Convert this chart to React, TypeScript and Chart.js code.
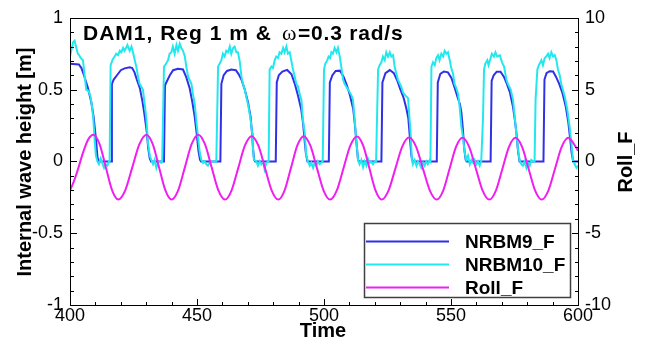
import React, { useEffect, useRef } from 'react';
import { Chart, registerables } from 'chart.js';

Chart.register(...registerables);

// ---------- data ----------
const X_TICKS = [400, 450, 500, 550, 600];
const Y_TICKS = [-1, -0.5, 0, 0.5, 1];
const Y2_TICKS = [-10, -5, 0, 5, 10];
const SERIES_NAMES = ['NRBM9_F', 'NRBM10_F', 'Roll_F'];
const CHART_TITLE = ['DAM1, Reg 1 m & ', 'ω', '=0.3 rad/s'];
const X_TITLE = 'Time';
const Y_TITLE = 'Internal wave height [m]';
const Y2_TITLE = 'Roll_F';

// [time, value]
const NRBM9_F: [number, number][] = [
  [400, 0.68], [403.5, 0.675], [404.5, 0.65], [405.5, 0.6], [407.1, 0.51], [408.4, 0.41], [409.3, 0.31], [409.9, 0.21], [410.4, 0.12], [410.8, 0.03], [411.3, 0.0],
  [416.2, 0.0], [416.5, 0.54], [417.2, 0.57], [418.5, 0.6], [420.0, 0.635], [421.5, 0.648], [423.5, 0.655], [424.5, 0.65], [425.4, 0.62], [426.3, 0.57], [427.5, 0.51], [428.5, 0.42], [429.3, 0.33], [430.2, 0.21], [430.8, 0.09], [431.4, 0.02], [431.9, 0.0],
  [437.0, 0.0], [437.4, 0.53], [438.2, 0.56], [439.3, 0.6], [440.6, 0.635], [442.5, 0.645], [444.5, 0.64], [445.8, 0.585], [447.1, 0.51], [448.2, 0.41], [449.1, 0.31], [449.9, 0.19], [450.6, 0.07], [451.2, 0.01], [451.6, 0.0],
  [459.2, 0.0], [459.6, 0.54], [460.5, 0.6], [461.8, 0.63], [463.5, 0.64], [465.3, 0.635], [466.3, 0.61], [467.5, 0.57], [468.8, 0.5], [470.1, 0.41], [471.1, 0.31], [471.7, 0.19], [472.1, 0.08], [472.5, 0.01], [472.9, 0.0],
  [481.0, 0.0], [481.4, 0.55], [482.2, 0.6], [483.6, 0.625], [485.5, 0.637], [487.2, 0.607], [488.5, 0.54], [489.8, 0.455], [491.0, 0.365], [491.8, 0.26], [492.4, 0.14], [492.9, 0.05], [493.5, 0.0],
  [501.9, 0.0], [502.3, 0.55], [503.3, 0.6], [504.6, 0.63], [506.3, 0.632], [507.7, 0.59], [509.0, 0.53], [510.3, 0.455], [511.5, 0.365], [512.2, 0.25], [512.8, 0.125], [513.4, 0.01], [513.8, 0.0],
  [522.6, 0.0], [523.0, 0.55], [524.2, 0.615], [525.9, 0.636], [527.5, 0.615], [528.8, 0.565], [530.1, 0.5], [531.4, 0.44], [532.4, 0.37], [533.2, 0.3], [533.8, 0.17], [534.4, 0.04], [534.9, 0.0],
  [544.4, 0.0], [544.8, 0.55], [545.8, 0.61], [547.2, 0.626], [548.8, 0.62], [550.2, 0.58], [551.5, 0.51], [552.8, 0.435], [553.5, 0.4], [554.1, 0.34], [554.7, 0.22], [555.2, 0.09], [555.8, 0.01], [556.2, 0.0],
  [565.6, 0.0], [566.0, 0.56], [566.8, 0.6], [568.0, 0.625], [569.5, 0.625], [570.8, 0.59], [572.0, 0.54], [573.2, 0.48], [574.4, 0.38], [575.2, 0.28], [575.8, 0.19], [576.4, 0.07], [577.0, 0.0],
  [586.4, 0.0], [586.8, 0.57], [587.6, 0.615], [588.8, 0.628], [590.2, 0.626], [591.3, 0.59], [592.6, 0.54], [593.9, 0.475], [595.2, 0.38], [596.2, 0.27], [596.9, 0.16], [597.5, 0.06], [598.1, 0.0], [600, 0.0],
];

const NRBM10_F: [number, number][] = [
  [400.0, 0.73], [400.6, 0.78], [401.2, 0.83], [401.8, 0.84], [402.5, 0.79], [403.1, 0.75], [403.6, 0.74], [404.2, 0.72], [405.1, 0.705], [405.8, 0.59], [406.4, 0.5], [407.3, 0.49], [408.1, 0.45], [408.7, 0.38], [409.2, 0.29], [409.7, 0.15], [410.2, 0.04], [410.8, 0.0],
  [411.4, -0.02], [412.1, 0.02], [412.7, -0.01], [413.4, -0.045], [414.0, -0.02], [414.7, -0.03], [415.3, 0.0], [415.6, 0.0],
  [416.0, 0.67], [416.8, 0.71], [417.6, 0.73], [418.2, 0.75], [418.9, 0.74], [419.6, 0.77], [420.2, 0.76], [420.9, 0.79], [421.5, 0.77], [422.6, 0.81], [423.5, 0.77], [424.2, 0.8], [424.8, 0.76], [425.5, 0.705], [426.1, 0.66], [426.8, 0.59], [427.4, 0.54], [428.1, 0.52], [428.7, 0.5], [429.4, 0.4], [430.1, 0.29], [430.7, 0.13], [431.4, 0.04], [432.0, 0.01],
  [432.7, -0.02], [433.3, 0.01], [434.0, -0.045], [434.6, -0.01], [435.3, 0.0], [435.9, -0.01], [436.3, 0.0],
  [437.0, 0.66], [437.5, 0.67], [438.6, 0.705], [439.2, 0.75], [439.9, 0.76], [440.5, 0.8], [441.2, 0.75], [441.9, 0.81], [442.5, 0.77], [443.2, 0.82], [443.8, 0.79], [444.5, 0.77], [445.2, 0.73], [445.8, 0.66], [446.5, 0.59], [447.8, 0.54], [448.4, 0.47], [449.1, 0.4], [449.7, 0.29], [450.4, 0.17], [451.1, 0.06], [451.7, 0.01],
  [452.4, -0.01], [453.0, 0.0], [453.7, -0.02], [454.3, -0.03], [455.0, -0.01], [455.6, 0.0], [457.0, 0.0], [457.6, 0.0],
  [458.3, 0.66], [458.9, 0.68], [459.6, 0.705], [460.2, 0.75], [460.9, 0.73], [461.5, 0.77], [462.2, 0.76], [462.9, 0.8], [463.5, 0.75], [464.2, 0.79], [464.8, 0.8], [465.5, 0.76], [466.1, 0.76], [466.8, 0.7], [467.5, 0.59], [468.1, 0.54], [468.8, 0.5], [469.4, 0.45], [470.3, 0.38], [471.1, 0.29], [471.7, 0.2], [472.0, 0.1], [472.4, 0.01],
  [473.4, 0.0], [474.0, -0.03], [474.7, 0.0], [475.3, -0.02], [476.0, 0.0], [476.6, -0.055], [477.3, -0.01], [477.9, 0.0], [478.2, 0.0],
  [478.6, 0.64], [479.3, 0.66], [479.9, 0.65], [480.6, 0.705], [481.2, 0.73], [481.9, 0.72], [482.5, 0.76], [483.2, 0.75], [483.9, 0.79], [484.5, 0.76], [485.2, 0.8], [485.8, 0.75], [486.5, 0.76], [487.1, 0.705], [487.8, 0.64], [488.5, 0.59], [489.1, 0.54], [489.8, 0.52], [490.4, 0.47], [491.1, 0.43], [491.7, 0.29], [492.4, 0.2], [493.0, 0.04],
  [493.7, 0.0], [494.4, -0.03], [495.0, -0.01], [495.7, -0.045], [496.3, -0.01], [497.0, -0.03], [497.6, 0.0], [498.3, -0.02], [498.9, -0.01], [499.5, 0.0],
  [500.0, 0.64], [500.5, 0.68], [501.3, 0.705], [501.8, 0.73], [502.4, 0.72], [502.9, 0.76], [503.5, 0.75], [504.2, 0.79], [504.9, 0.76], [505.5, 0.79], [506.2, 0.73], [506.8, 0.66], [507.5, 0.57], [508.1, 0.54], [509.5, 0.5], [510.8, 0.46], [511.4, 0.43], [512.1, 0.29], [512.7, 0.15], [513.4, 0.01],
  [514.0, -0.02], [514.7, 0.01], [515.4, -0.04], [516.0, 0.0], [516.7, -0.03], [517.3, 0.02], [518.0, -0.01], [518.6, 0.0], [519.3, -0.02], [519.9, 0.0], [520.5, 0.0],
  [521.3, 0.64], [521.9, 0.67], [522.6, 0.69], [523.2, 0.73], [523.9, 0.705], [524.5, 0.76], [525.2, 0.73], [525.9, 0.76], [526.5, 0.73], [527.2, 0.74], [527.8, 0.66], [528.5, 0.61], [529.1, 0.57], [530.4, 0.52], [531.1, 0.48], [532.0, 0.46], [533.1, 0.44], [533.7, 0.29], [534.1, 0.2], [534.6, 0.01],
  [535.0, -0.02], [535.7, 0.01], [536.4, -0.03], [537.0, 0.0], [537.7, -0.02], [538.3, -0.045], [539.0, -0.01], [539.6, -0.03], [540.3, 0.0], [540.9, -0.02], [541.6, 0.01], [541.9, 0.0],
  [542.3, 0.66], [542.9, 0.69], [543.6, 0.67], [544.2, 0.72], [544.9, 0.74], [545.5, 0.705], [546.2, 0.75], [546.9, 0.73], [547.5, 0.77], [548.2, 0.75], [548.8, 0.76], [549.5, 0.705], [550.1, 0.65], [550.8, 0.61], [551.4, 0.54], [552.1, 0.51], [552.8, 0.47], [553.4, 0.38], [554.1, 0.24], [554.7, 0.17], [555.4, 0.06], [556.0, 0.01],
  [556.7, 0.04], [557.4, -0.02], [558.0, 0.01], [558.7, -0.01], [559.3, 0.01], [560.0, -0.02], [560.6, 0.0], [561.3, -0.03], [561.9, 0.0], [562.2, 0.0],
  [562.6, 0.3], [563.0, 0.64], [563.5, 0.68], [564.3, 0.705], [564.8, 0.67], [565.6, 0.72], [566.1, 0.75], [566.9, 0.73], [567.5, 0.76], [568.2, 0.73], [569.2, 0.74], [570.1, 0.69], [570.9, 0.66], [571.8, 0.57], [572.4, 0.54], [573.5, 0.5], [574.4, 0.43], [575.1, 0.31], [575.7, 0.2], [576.4, 0.08], [577.0, 0.01],
  [577.7, -0.02], [578.3, -0.03], [579.0, 0.0], [579.7, -0.045], [580.3, -0.01], [581.0, -0.03], [581.6, 0.01], [582.3, 0.0], [582.9, 0.0],
  [583.3, 0.43], [584.0, 0.64], [584.6, 0.67], [585.6, 0.705], [586.2, 0.67], [586.9, 0.72], [587.5, 0.73], [588.2, 0.75], [588.8, 0.72], [589.5, 0.76], [590.2, 0.73], [590.8, 0.74], [591.5, 0.705], [592.1, 0.64], [592.8, 0.6], [593.4, 0.54], [594.8, 0.45], [595.8, 0.36], [596.7, 0.24], [597.4, 0.13], [598.0, 0.01], [598.7, -0.02], [599.4, -0.045], [600.0, -0.03],
];

const ROLL_F: [number, number][] = [
  [400, -2.04], [401.6, -1.35], [403.1, -0.57], [405.1, 0.59], [407.1, 1.51], [409.2, 1.86],
  [411.65, 1.2], [414.1, -0.4], [416.55, -2.0], [419.0, -2.66],
  [421.78, -2.0], [424.55, -0.4], [427.33, 1.2], [430.1, 1.86],
  [432.58, 1.2], [435.05, -0.4], [437.53, -2.0], [440.0, -2.66],
  [442.63, -2.0], [445.25, -0.4], [447.88, 1.2], [450.5, 1.86],
  [453.13, 1.2], [455.75, -0.4], [458.38, -2.0], [461.0, -2.66],
  [463.63, -2.01], [466.25, -0.45], [468.88, 1.11], [471.5, 1.76],
  [474.13, 1.11], [476.75, -0.45], [479.38, -2.01], [482.0, -2.66],
  [484.5, -2.01], [487.0, -0.45], [489.5, 1.11], [492.0, 1.76],
  [494.6, 1.11], [497.2, -0.45], [499.8, -2.01], [502.4, -2.66],
  [505.05, -2.02], [507.7, -0.46], [510.35, 1.1], [513.0, 1.74],
  [515.43, 1.1], [517.85, -0.46], [520.28, -2.02], [522.7, -2.66],
  [525.4, -2.03], [528.1, -0.5], [530.8, 1.03], [533.5, 1.66],
  [536.23, 1.03], [538.95, -0.5], [541.68, -2.03], [544.4, -2.66],
  [546.93, -2.03], [549.45, -0.51], [551.98, 1.01], [554.5, 1.64],
  [557.15, 1.01], [559.8, -0.51], [562.45, -2.03], [565.1, -2.66],
  [567.68, -2.03], [570.25, -0.51], [572.83, 1.01], [575.4, 1.64],
  [577.98, 1.01], [580.55, -0.51], [583.13, -2.03], [585.7, -2.66],
  [588.33, -2.03], [590.95, -0.51], [593.58, 1.01], [596.2, 1.64],
  [597.6, 1.42], [598.8, 1.1], [600, 0.75],
];

const COLORS = ['#3030e8', '#22e8ee', '#f01ef0'];
const FONT = '"Liberation Sans", Arial, Helvetica, sans-serif';

const toXY = (arr: [number, number][]) => arr.map(([x, y]) => ({ x, y }));

const decorPlugin = {
  id: 'decor',
  afterDraw(chart: any) {
    const { ctx, chartArea: a, scales } = chart;
    const L = Math.round(a.left), R = Math.round(a.right), T = Math.round(a.top), B = Math.round(a.bottom);
    ctx.save();
    // frame
    ctx.strokeStyle = '#000';
    ctx.lineWidth = 1;
    ctx.strokeRect(L + 0.5, T + 0.5, R - L, B - T);
    // inward ticks
    ctx.beginPath();
    const ys = scales.y, y2s = scales.y2, xs = scales.x;
    for (let i = -10; i <= 10; i++) {
      const len = i % 5 === 0 ? 7 : 4;
      const py = Math.round(ys.getPixelForValue(i / 10)) + 0.5;
      ctx.moveTo(L, py); ctx.lineTo(L + len, py);
      const py2 = Math.round(y2s.getPixelForValue(i)) + 0.5;
      ctx.moveTo(R + 1, py2); ctx.lineTo(R + 1 - len, py2);
    }
    for (let t = 400; t <= 600; t += 10) {
      const len = (t - 400) % 50 === 0 ? 7 : 4;
      const px = Math.round(xs.getPixelForValue(t)) + 0.5;
      ctx.moveTo(px, B + 1); ctx.lineTo(px, B + 1 - len);
    }
    ctx.stroke();

    ctx.fillStyle = '#000';
    // axis titles
    ctx.font = `bold 20px ${FONT}`;
    ctx.textBaseline = 'alphabetic';
    ctx.textAlign = 'center';
    ctx.save();
    ctx.translate(31, 162);
    ctx.rotate(-Math.PI / 2);
    ctx.fillText(Y_TITLE, 0, 0);
    ctx.restore();
    ctx.save();
    ctx.translate(632, 162);
    ctx.rotate(-Math.PI / 2);
    ctx.fillText(Y2_TITLE, 0, 0);
    ctx.restore();
    ctx.fillText(X_TITLE, 323, 337);

    // chart title inside plot
    ctx.textAlign = 'left';
    (ctx as any).letterSpacing = '1px';
    ctx.font = `bold 21px ${FONT}`;
    ctx.fillText(CHART_TITLE[0], 83, 40);
    ctx.font = `22px "Liberation Serif", "DejaVu Serif", serif`;
    (ctx as any).letterSpacing = '0px';
    ctx.fillText(CHART_TITLE[1], 282, 40);
    (ctx as any).letterSpacing = '0.8px';
    ctx.font = `bold 21px ${FONT}`;
    ctx.fillText(CHART_TITLE[2], 298, 40);
    (ctx as any).letterSpacing = '0px';

    // legend box
    const bx = 364, by = 223, bw = 206, bh = 74;
    ctx.fillStyle = '#fff';
    ctx.fillRect(bx, by, bw, bh);
    ctx.strokeStyle = '#404040';
    ctx.lineWidth = 1.5;
    ctx.strokeRect(bx + 0.5, by + 0.5, bw, bh);
    const rows = [241.5, 264.5, 287.5];
    ctx.font = `bold 19px ${FONT}`;
    ctx.textBaseline = 'middle';
    SERIES_NAMES.forEach((name, i) => {
      ctx.strokeStyle = COLORS[i];
      ctx.lineWidth = 2;
      ctx.beginPath();
      ctx.moveTo(366, rows[i]);
      ctx.lineTo(449, rows[i]);
      ctx.stroke();
      ctx.fillStyle = '#000';
      ctx.fillText(name, 465, rows[i] + 1);
    });
    ctx.restore();
  },
};

export default function App() {
  const ref = useRef<HTMLCanvasElement | null>(null);
  useEffect(() => {
    document.body.style.margin = '0';
    document.body.style.background = '#fff';
    const canvas = ref.current;
    if (!canvas) return;
    const tickFont = { family: FONT, size: 18 };
    const chart = new Chart(canvas, {
      type: 'line',
      data: {
        datasets: [
          {
            label: SERIES_NAMES[0], data: toXY(NRBM9_F), yAxisID: 'y',
            borderColor: COLORS[0], borderWidth: 2, pointRadius: 0, tension: 0, order: 3,
          },
          {
            label: SERIES_NAMES[1], data: toXY(NRBM10_F), yAxisID: 'y',
            borderColor: COLORS[1], borderWidth: 2, pointRadius: 0, tension: 0, order: 2,
          },
          {
            label: SERIES_NAMES[2], data: toXY(ROLL_F), yAxisID: 'y2',
            borderColor: COLORS[2], borderWidth: 2, pointRadius: 0, cubicInterpolationMode: 'monotone', order: 1,
          },
        ] as any,
      },
      options: {
        responsive: false,
        animation: false,
        devicePixelRatio: 1,
        layout: { padding: { top: 16, left: 0, right: 0, bottom: 0 } },
        plugins: { legend: { display: false }, tooltip: { enabled: false }, title: { display: false } },
        events: [],
        scales: {
          x: {
            type: 'linear', min: 400, max: 600, position: 'bottom',
            afterBuildTicks: (s: any) => { s.ticks = X_TICKS.map((v) => ({ value: v })); },
            ticks: { font: tickFont, color: '#000', padding: 0, maxRotation: 0, autoSkip: false, callback: (v: any) => String(v) },
            grid: { display: false, drawTicks: false },
            border: { display: false },
            afterFit: (s: any) => { s.height = 35; },
          },
          y: {
            type: 'linear', min: -1, max: 1, position: 'left',
            afterBuildTicks: (s: any) => { s.ticks = Y_TICKS.map((v) => ({ value: v })); },
            ticks: { font: tickFont, color: '#000', padding: 7, callback: (v: any) => String(v) },
            grid: { display: false, drawTicks: false },
            border: { display: false },
            afterFit: (s: any) => { s.width = 70; },
          },
          y2: {
            type: 'linear', min: -10, max: 10, position: 'right',
            afterBuildTicks: (s: any) => { s.ticks = Y2_TICKS.map((v) => ({ value: v })); },
            ticks: { font: tickFont, color: '#000', padding: 7, callback: (v: any) => String(v) },
            grid: { display: false, drawTicks: false },
            border: { display: false },
            afterFit: (s: any) => { s.width = 70; },
          },
        },
      } as any,
      plugins: [decorPlugin],
    });
    return () => chart.destroy();
  }, []);
  return (
    <div style={{ width: 648, height: 340, background: '#fff' }}>
      <canvas ref={ref} width={648} height={340} style={{ display: 'block', width: 648, height: 340 }} />
    </div>
  );
}
